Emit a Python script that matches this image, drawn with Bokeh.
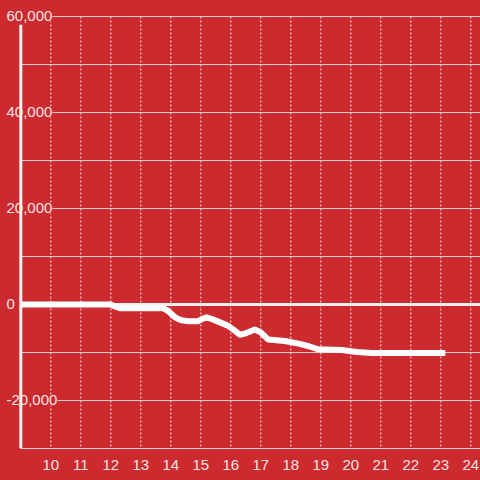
from bokeh.plotting import figure
from bokeh.models import Range1d, FixedTicker, GlobalInlineStyleSheet
from bokeh.core.properties import value
from bokeh.embed import file_html
from bokeh.resources import INLINE

# ---- data ----
hours = [9.0, 12.0, 12.1, 12.3, 13.75, 13.9, 14.15, 14.35, 14.6, 14.9, 15.05, 15.2, 15.4,
         15.9, 16.1, 16.3, 16.5, 16.8, 17.0, 17.25, 17.8, 18.3, 18.6, 18.9, 19.7, 20.2, 20.7, 23.15]
values = [0, 0, -300, -800, -800, -1300, -2700, -3300, -3500, -3500, -3000, -2700, -3100,
          -4400, -5300, -6300, -6000, -5200, -5800, -7300, -7600, -8200, -8700, -9300, -9500, -9900, -10100, -10100]

x_ticks = [10, 11, 12, 13, 14, 15, 16, 17, 18, 19, 20, 21, 22, 23, 24]
y_grid = [-20000, -10000, 10000, 20000, 30000, 40000, 50000, 60000]
y_label_vals = [-20000, 0, 20000, 40000, 60000]
y_label_text = ["-20,000", "0", "20,000", "40,000", "60,000"]

BG = "#cc2a2e"
FG = "#f3e4e4"
FONT = "Liberation Sans"
FSIZE = "15px"

x_start, x_end = 8.323, 24.323
y_start, y_end = -30000, 63333
axis_x = 9.0

p = figure(width=480, height=480, output_backend="svg", toolbar_location=None,
           x_range=Range1d(x_start, x_end), y_range=Range1d(y_start, y_end),
           y_axis_location=None, min_border_left=0, min_border_right=0,
           min_border_top=0, min_border_bottom=32,
           background_fill_color=BG, border_fill_color=BG, outline_line_color=None)
p.stylesheets = [GlobalInlineStyleSheet(css="html, body { margin: 0; padding: 0; background: %s; }" % BG)]
p.xgrid.visible = False
p.ygrid.visible = False

# x axis
ax = p.xaxis[0]
ax.ticker = FixedTicker(ticks=x_ticks)
ax.bounds = (axis_x, x_end)
ax.axis_line_color = "#cfcfcf"
ax.axis_line_width = 1
ax.major_tick_line_color = None
ax.minor_tick_line_color = None
ax.major_label_standoff = 5
ax.major_label_text_font = FONT
ax.major_label_text_font_size = FSIZE
ax.major_label_text_color = FG

# vertical dotted guides
p.segment(x0=x_ticks, y0=[max(y_grid)] * len(x_ticks), x1=x_ticks, y1=[y_start] * len(x_ticks),
          line_color="#f0eaea", line_width=1, line_dash="2 2")

# horizontal grid lines
p.segment(x0=[axis_x] * len(y_grid), y0=y_grid, x1=[x_end] * len(y_grid), y1=y_grid,
          line_color="#cfcfcf", line_width=1)

# y labels with background boxes
p.text(x=[x_start + 0.2] * len(y_label_vals), y=y_label_vals, text=y_label_text,
       text_align="left", text_baseline="middle", text_color=FG,
       text_font=value(FONT), text_font_size=value(FSIZE),
       background_fill_color=BG)

# y axis line
y_axis_top = max(y_grid) - 1700
p.segment(x0=[axis_x], y0=[y_axis_top], x1=[axis_x], y1=[y_start], line_color="#f2f2f2", line_width=3)

# zero line
p.segment(x0=[axis_x], y0=[0], x1=[x_end], y1=[0], line_color="#f0f0f0", line_width=3)

# data line
p.line(hours, values, line_color="#ffffff", line_width=6, line_join="round")

open("out.html", "w").write(file_html(p, INLINE))
